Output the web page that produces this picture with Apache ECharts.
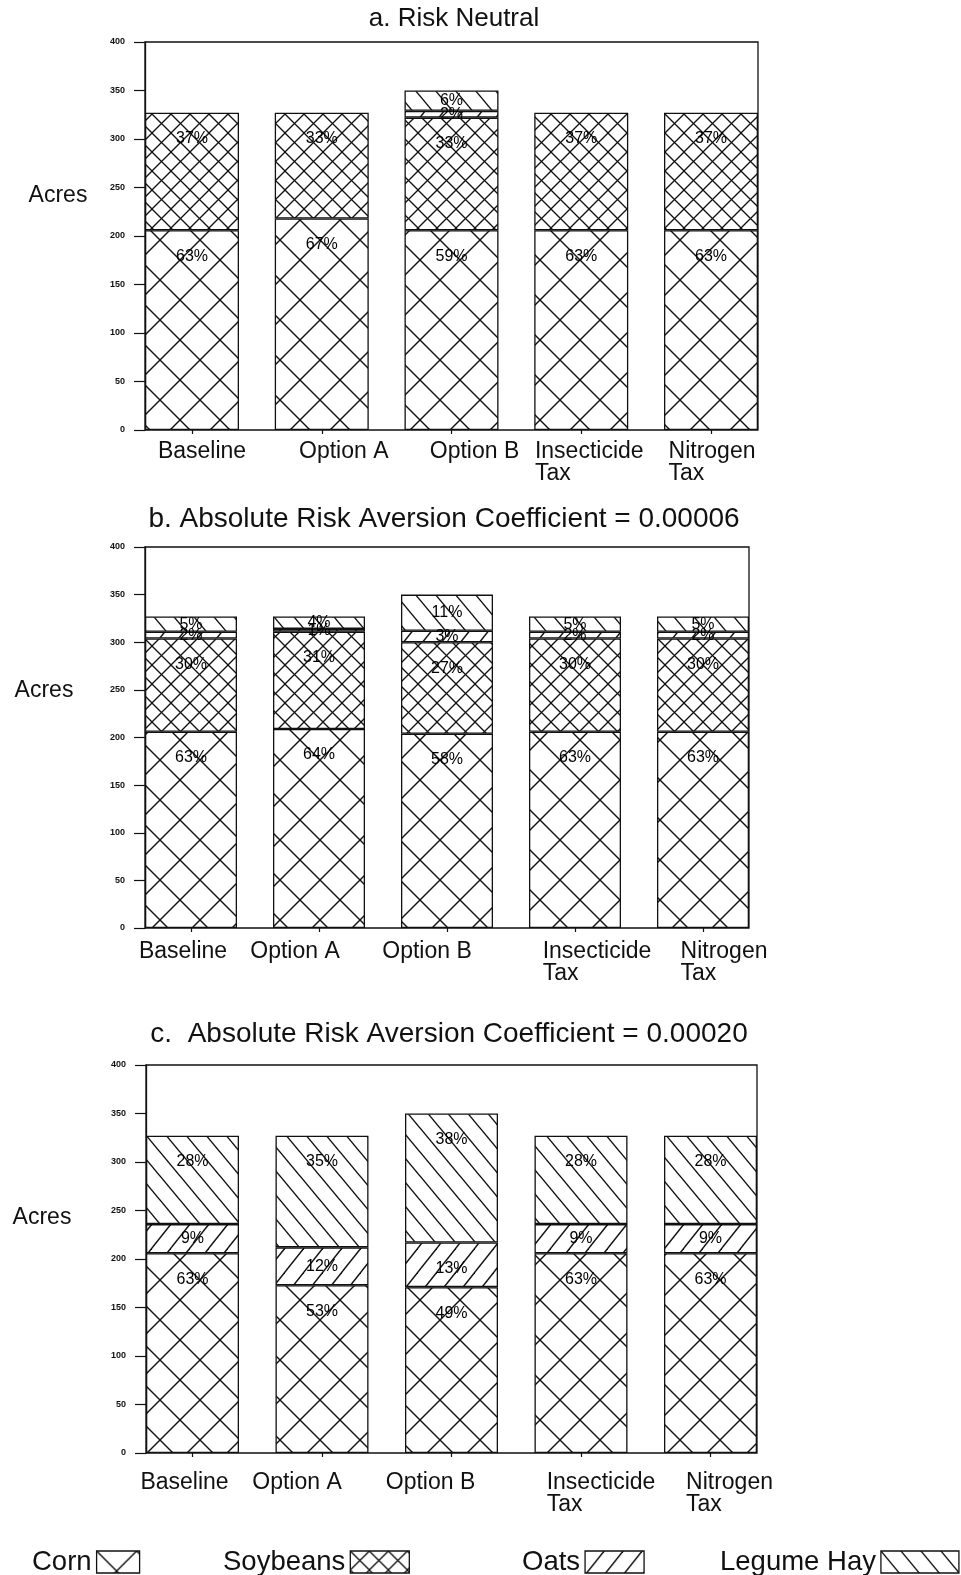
<!DOCTYPE html>
<html>
<head>
<meta charset="utf-8">
<title>Acreage by crop under alternative policies</title>
<script src="https://cdn.jsdelivr.net/npm/echarts@6/dist/echarts.min.js"></script>
<style>
  html, body { margin: 0; padding: 0; background: #fff; }
  #chart { width: 961px; height: 1575px; }
</style>
</head>
<body>
<div id="chart"></div>
<script>
// ---- data ---------------------------------------------------------------
const categories = ['Baseline', 'Option A', 'Option B', 'Insecticide\nTax', 'Nitrogen\nTax'];
const crops = ['Corn', 'Soybeans', 'Oats', 'Legume Hay'];
const panelTitles = [
  'a. Risk Neutral',
  'b. Absolute Risk Aversion Coefficient = 0.00006',
  'c.  Absolute Risk Aversion Coefficient = 0.00020'
];
const axisName = 'Acres';
const yMin = 0, yMax = 400, yStep = 50;

// acres planted, one value per scenario (Baseline, Option A, Option B, Insecticide Tax, Nitrogen Tax)
// a. risk neutral
const cornA      = [206, 218, 206, 206, 206];
const soybeansA  = [121, 109, 116, 121, 121];
const oatsA      = [0, 0, 7, 0, 0];
const hayA       = [0, 0, 21, 0, 0];
// b. risk aversion coefficient 0.00006
const cornB      = [206, 209, 204, 206, 206];
const soybeansB  = [98, 102, 96, 98, 98];
const oatsB      = [7, 3, 12, 7, 7];
const hayB       = [16, 13, 38, 16, 16];
// c. risk aversion coefficient 0.00020
const cornC      = [206, 173, 171, 206, 206];
const soybeansC  = [0, 0, 0, 0, 0];
const oatsC      = [30, 39, 46, 30, 30];
const hayC       = [91, 115, 133, 91, 91];

// ---- layout & style -----------------------------------------------------
const FONT = '"Liberation Sans", Arial, Helvetica, sans-serif';
const INK = '#111';

const LAYOUT = [
  { frame: { left: 145, right: 758, top: 42, bottom: 430 }, barWidth: 94,
    title: { x: 454, y: 19, size: 26 }, acres: { x: 58, y: 196 },
    labelMargin: 11, nudge: [10, 22, 23, 8, 1] },
  { frame: { left: 145, right: 749, top: 547, bottom: 928 }, barWidth: 92,
    title: { x: 444, y: 519, size: 28 }, acres: { x: 44, y: 691 },
    labelMargin: 13, nudge: [-8, -24, -20, 22, 21] },
  { frame: { left: 146, right: 757, top: 1065, bottom: 1453 }, barWidth: 93,
    title: { x: 449, y: 1034, size: 28 }, acres: { x: 42, y: 1218 },
    labelMargin: 19, nudge: [-8, -25, -21, 20, 19] }
];

const LEGEND_LAYOUT = [
  { left: 32, iconWidth: 43 },
  { left: 223, iconWidth: 59 },
  { left: 522, iconWidth: 59 },
  { left: 720, iconWidth: 78 }
];

// hatch tile: '/' and '\\' line families that repeat seamlessly
function hatch(w, h, families, lw) {
  const c = document.createElement('canvas');
  c.width = w; c.height = h;
  const g = c.getContext('2d');
  g.fillStyle = '#fff';
  g.fillRect(0, 0, w, h);
  g.strokeStyle = INK;
  g.lineWidth = lw;
  families.forEach(f => {
    for (let k = -2; k <= 2; k++) {
      g.beginPath();
      if (f === '\\') { g.moveTo(k * w - w, -h); g.lineTo(k * w + 2 * w, 2 * h); }
      else { g.moveTo(k * w + 2 * w, -h); g.lineTo(k * w - w, 2 * h); }
      g.stroke();
    }
  });
  return c;
}

const fills = {
  'Corn':       { image: hatch(40, 40, ['/', '\\'], 1.4), repeat: 'repeat' },
  'Soybeans':   { image: hatch(19, 19, ['/', '\\'], 1.3), repeat: 'repeat' },
  'Oats':       { image: hatch(19, 24, ['/'], 1.4), repeat: 'repeat' },
  'Legume Hay': { image: hatch(20, 24, ['\\'], 1.4), repeat: 'repeat' }
};

const panels = [
  { 'Corn': cornA, 'Soybeans': soybeansA, 'Oats': oatsA, 'Legume Hay': hayA },
  { 'Corn': cornB, 'Soybeans': soybeansB, 'Oats': oatsB, 'Legume Hay': hayB },
  { 'Corn': cornC, 'Soybeans': soybeansC, 'Oats': oatsC, 'Legume Hay': hayC }
];

// ---- option -------------------------------------------------------------
const grid = [], xAxis = [], yAxis = [], series = [], graphic = [];

panels.forEach((panel, p) => {
  const L = LAYOUT[p];
  const f = L.frame;
  const W = f.right - f.left;
  const H = f.bottom - f.top;
  const gap = (W - 5 * L.barWidth) / 4;
  const totals = categories.map((_, i) => crops.reduce((s, c) => s + panel[c][i], 0));

  // framed plot area carrying the acreage axis
  grid.push({ left: f.left, top: f.top, width: W, height: H, show: true,
              borderColor: INK, borderWidth: 1.3, backgroundColor: 'transparent' });
  xAxis.push({ gridIndex: 2 * p, type: 'value', min: 0, max: 1, show: false });
  yAxis.push({
    gridIndex: 2 * p, type: 'value', min: yMin, max: yMax, interval: yStep,
    axisLine: { show: true, lineStyle: { color: INK, width: 1.3 } },
    axisTick: { show: true, length: 11, lineStyle: { color: INK, width: 1.2 } },
    axisLabel: { margin: 20, fontSize: 9, fontWeight: 'bold', fontFamily: FONT, color: INK },
    splitLine: { show: false }
  });

  // category band holding the stacked bars
  const rich = {};
  L.nudge.forEach((d, i) => {
    rich['n' + i] = {
      fontSize: 23, fontFamily: FONT, color: INK, align: 'left', lineHeight: 22,
      padding: d >= 0 ? [0, 0, 0, 2 * d] : [0, -2 * d, 0, 0]
    };
  });
  grid.push({ left: f.left - gap / 2, top: f.top, width: W + gap, height: H, show: false });
  xAxis.push({
    gridIndex: 2 * p + 1, type: 'category', data: categories,
    axisLine: { show: false },
    axisTick: { show: true, alignWithLabel: true, length: 4, lineStyle: { color: INK, width: 1.2 } },
    axisLabel: {
      margin: L.labelMargin, interval: 0, fontSize: 23, fontFamily: FONT, color: INK,
      formatter: (value, idx) => value.split('\n').map(s => '{n' + idx + '|' + s + '}').join('\n'),
      rich
    }
  });
  yAxis.push({ gridIndex: 2 * p + 1, type: 'value', min: yMin, max: yMax, show: false });

  crops.forEach(crop => {
    series.push({
      name: crop, type: 'bar', stack: 'panel' + p,
      xAxisIndex: 2 * p + 1, yAxisIndex: 2 * p + 1,
      barWidth: L.barWidth,
      itemStyle: { color: fills[crop], borderColor: INK, borderWidth: 1.3 },
      emphasis: { disabled: true },
      label: {
        show: true, distance: 18, fontSize: 16, fontFamily: FONT, color: '#000',
        formatter: prm => Math.round(prm.value / totals[prm.dataIndex] * 100) + '%'
      },
      data: panel[crop].map(v => v > 0
        ? { value: v, label: { position: v < 40 ? 'inside' : 'insideTop' } }
        : '-')
    });
  });

  graphic.push({
    type: 'text', x: L.title.x, y: L.title.y,
    style: { text: panelTitles[p], fontSize: L.title.size, fontFamily: FONT, fill: INK,
             align: 'center', verticalAlign: 'middle' }
  });
  graphic.push({
    type: 'text', x: L.acres.x, y: L.acres.y,
    style: { text: axisName, fontSize: 23, fontFamily: FONT, fill: INK,
             align: 'center', verticalAlign: 'middle' }
  });
});

const legend = crops.map((crop, i) => ({
  data: [crop], left: LEGEND_LAYOUT[i].left, top: 1548, padding: 0,
  align: 'right', icon: 'rect', selectedMode: false,
  itemWidth: LEGEND_LAYOUT[i].iconWidth, itemHeight: 22,
  itemStyle: { borderColor: INK, borderWidth: 1.3 },
  textStyle: { fontSize: 27.5, fontFamily: FONT, color: INK }
}));

const chart = echarts.init(document.getElementById('chart'), null, { renderer: 'canvas' });
chart.setOption({
  animation: false,
  backgroundColor: '#fff',
  grid, xAxis, yAxis, series, legend, graphic
});
</script>
</body>
</html>
